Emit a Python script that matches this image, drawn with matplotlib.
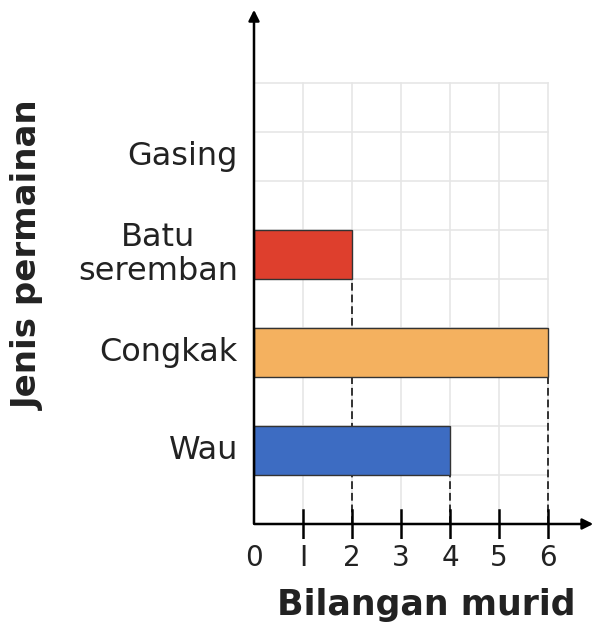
import matplotlib.pyplot as plt

# data
games = ["Wau", "Congkak", "Batu\nseremban", "Gasing"]
pupils = [4, 6, 2, 0]
colors = ["#3d6cc2", "#f4b15f", "#de3f2d", "#ffffff"]
xticks = [0, 1, 2, 3, 4, 5, 6]
xtick_labels = ["0", "I", "2", "3", "4", "5", "6"]

fig = plt.figure(figsize=(5.95, 6.28), dpi=100)
# 1 unit = 49 px, origin at (254, 524) px
ax = fig.add_axes([244.2 / 595, (628 - 538.7) / 628, 347.9 / 595, 529.2 / 628])
ax.set_xlim(-0.2, 6.9)
ax.set_ylim(-0.3, 10.5)
ax.axis("off")

# light grid
for gx in range(1, 7):
    ax.plot([gx, gx], [0, 9], color="#e6e6e6", lw=1.2, zorder=1)
for gy in range(1, 10):
    ax.plot([0, 6], [gy, gy], color="#e6e6e6", lw=1.2, zorder=1)

# bars: each category takes 2 grid rows, bar is 1 row tall
ypos = [1.5 + 2 * i for i in range(len(games))]
for y, v, c in zip(ypos, pupils, colors):
    if v > 0:
        ax.barh(y, v, height=1, color=c, edgecolor="#333333", lw=1, zorder=3)
        # dashed guide down to the axis
        ax.plot([v, v], [0, y - 0.5], color="#333333", lw=1.4,
                ls=(0, (4, 2)), zorder=2)

# axes with arrows
ax.annotate("", xy=(0, 10.55), xytext=(0, -0.05), annotation_clip=False,
            arrowprops=dict(arrowstyle="-|>", color="black", lw=1.8,
                            mutation_scale=16), zorder=5)
ax.annotate("", xy=(6.98, 0), xytext=(-0.05, 0), annotation_clip=False,
            arrowprops=dict(arrowstyle="-|>", color="black", lw=1.8,
                            mutation_scale=16), zorder=5)

# ticks
for t in xticks[1:]:
    ax.plot([t, t], [-0.28, 0.28], color="black", lw=1.8, zorder=5)
for t, lab in zip(xticks, xtick_labels):
    ax.text(t, -0.4, lab, ha="center", va="top", fontsize=20,
            color="#222222")

# category labels
for y, name in zip(ypos, games):
    ax.text(-0.33, y, name, ha="right", va="center", fontsize=23,
            color="#222222", multialignment="center", linespacing=1.1)

fig.text(426 / 595, 1 - 605 / 628, "Bilangan murid", ha="center",
         va="center", fontsize=25, fontweight="bold", color="#222222")
fig.text(28 / 595, 1 - 255 / 628, "Jenis permainan", ha="center",
         va="center", rotation=90, fontsize=24.5, fontweight="bold",
         color="#222222")

fig.savefig("out.png", dpi=100)
